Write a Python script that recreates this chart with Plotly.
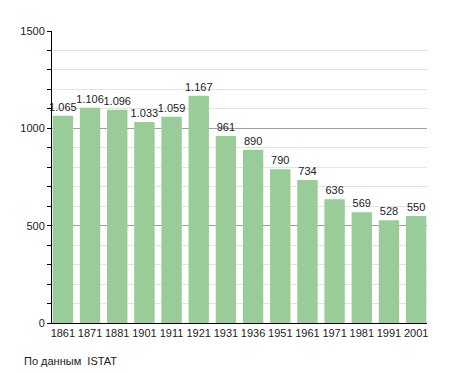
import plotly.graph_objects as go

years = ["1861", "1871", "1881", "1901", "1911", "1921", "1931", "1936", "1951", "1961", "1971", "1981", "1991", "2001"]
population = [1065, 1106, 1096, 1033, 1059, 1167, 961, 890, 790, 734, 636, 569, 528, 550]
labels = [f"{v:,}".replace(",", ".") for v in population]
source_text = "По данным  ISTAT"

# page body has an 8px margin; compensate so the figure lands where the reference is
OFF = 8
W, H = 455 - 2 * OFF, 373 - OFF
ml = 50 - OFF
mt = 31 - OFF
plot_right = 426.6 - OFF
plot_bottom = 323.5 - OFF
mr = W - plot_right
mb = H - plot_bottom
pw = W - ml - mr
ph = H - mt - mb

fig = go.Figure()
fig.add_trace(go.Bar(
    x=years, y=population, text=labels, textposition="outside",
    constraintext="none",
    marker=dict(color="#99cc99", line=dict(width=0)),
    textfont=dict(family="Liberation Sans, Arial", size=11, color="#222"),
    cliponaxis=False,
))

fig.update_layout(
    width=W, height=H,
    margin=dict(l=ml, r=mr, t=mt, b=mb, pad=0),
    paper_bgcolor="white", plot_bgcolor="white",
    bargap=0.25,
    showlegend=False,
    font=dict(family="Liberation Sans, Arial", size=11, color="#222"),
    xaxis=dict(
        type="category", range=[-0.4, 13.4],
        showline=True, linecolor="black", linewidth=1,
        ticks="", showgrid=False,
        tickfont=dict(size=11, color="#222"),
    ),
    yaxis=dict(
        range=[0, 1500], dtick=500, tick0=0,
        showline=True, linecolor="black", linewidth=1,
        ticks="outside", ticklen=4, tickcolor="black",
        showgrid=True, gridcolor="#a0a0a0", gridwidth=1,
        zeroline=False,
        tickfont=dict(size=11, color="#222"),
        minor=dict(dtick=100, tick0=0, showgrid=True, gridcolor="#e4e4e4", gridwidth=1,
                   ticks="outside", ticklen=4, tickcolor="black"),
    ),
    annotations=[dict(
        text=source_text, xref="paper", yref="paper",
        x=(20 - OFF - ml) / pw, y=-((362 - OFF) - plot_bottom) / ph,
        xanchor="left", yanchor="middle", showarrow=False,
        font=dict(family="Liberation Sans, Arial", size=11, color="#222"),
    )],
)

fig.write_html("out.html")
